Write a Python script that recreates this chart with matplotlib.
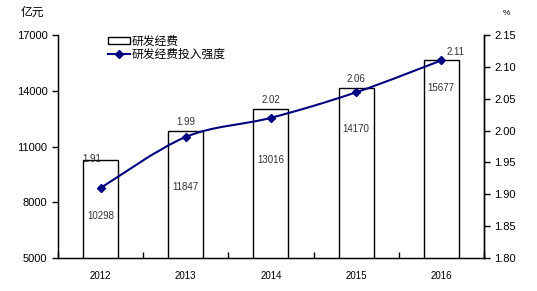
import matplotlib
matplotlib.use("Agg")
import matplotlib.pyplot as plt
from matplotlib.path import Path
from matplotlib.patches import PathPatch, Patch
from matplotlib.lines import Line2D
import numpy as np

plt.rcParams['font.family'] = ['Liberation Sans', 'Noto Sans CJK SC', 'DejaVu Sans']

years = ['2012', '2013', '2014', '2015', '2016']
rd_spending = [10298, 11847, 13016, 14170, 15677]
rd_intensity = [1.91, 1.99, 2.02, 2.06, 2.11]
bar_label_offsets = [-28, -50, -42, -37, -28]  # px offsets of value labels relative to marker
pct_label_offsets = [(-9, 29), (0, 15), (0, 18), (0, 13), (14, 8)]  # px offsets (dx, dy)

fig = plt.figure(figsize=(5.37, 2.91), dpi=100)
ax = fig.add_axes([0.108, 0.113, 0.793, 0.767])
ax2 = ax.twinx()

x = np.arange(len(years))
ax.bar(x, rd_spending, width=0.41, color='white', edgecolor='black', linewidth=1.0, zorder=2)
ax.set_xlim(-0.5, 4.5)
ax.set_ylim(5000, 17000)
ax.set_yticks([5000, 8000, 11000, 14000, 17000])
ax.set_xticks(x)
ax.set_xticklabels(years, fontsize=7)
ax.set_xticks(np.arange(-0.5, 4.6, 1.0), minor=True)
ax.tick_params(axis='x', which='major', length=0, pad=9)
ax.tick_params(axis='x', which='minor', direction='in', length=4, width=1)
ax.tick_params(axis='y', labelsize=8, direction='out', length=4, width=1)
ax.spines['top'].set_visible(False)
for s in ['left', 'bottom', 'right']:
    ax.spines[s].set_linewidth(1)

ax2.set_ylim(1.80, 2.15)
ticks2 = [1.80, 1.85, 1.90, 1.95, 2.00, 2.05, 2.10, 2.15]
ax2.set_yticks(ticks2)
ax2.set_yticklabels(['%.2f' % v for v in ticks2])
ax2.tick_params(axis='y', labelsize=8, direction='out', length=4, width=1)
ax2.spines['top'].set_visible(False)
ax2.spines['right'].set_linewidth(1)

# smooth line via Catmull-Rom -> Bezier
pts = np.column_stack([x, rd_intensity]).astype(float)
verts = [tuple(pts[0])]
codes = [Path.MOVETO]
n = len(pts)
for i in range(n - 1):
    p0 = pts[i - 1] if i > 0 else pts[i]
    p1 = pts[i]
    p2 = pts[i + 1]
    p3 = pts[i + 2] if i + 2 < n else pts[i + 1]
    c1 = p1 + (p2 - p0) / 6.0
    c2 = p2 - (p3 - p1) / 6.0
    verts += [tuple(c1), tuple(c2), tuple(p2)]
    codes += [Path.CURVE4] * 3
color = '#000080'
ax2.add_patch(PathPatch(Path(verts, codes), facecolor='none', edgecolor=color, linewidth=1.5, zorder=3))
ax2.plot(x, rd_intensity, linestyle='none', marker='D', markersize=4.5, color=color, zorder=4)

for xi, v, (dx, dy) in zip(x, rd_intensity, pct_label_offsets):
    ax2.annotate('%.2f' % v, (xi, v), xytext=(dx * 0.72, dy * 0.72), textcoords='offset points',
                 ha='center', va='center', fontsize=7, color='#333333')
for xi, v, r, off in zip(x, rd_spending, rd_intensity, bar_label_offsets):
    ax2.annotate(str(v), (xi, r), xytext=(0, off * 0.72), textcoords='offset points',
                 ha='center', va='center', fontsize=7, color='#333333')

handles = [Patch(facecolor='white', edgecolor='black', linewidth=1),
           Line2D([0], [0], color=color, linewidth=1.5, marker='D', markersize=4.5)]
leg = ax.legend(handles, ['研发经费', '研发经费投入强度'], loc='upper left',
                bbox_to_anchor=(0.106, 1.022), frameon=False,
                handlelength=1.9, handleheight=0.5, handletextpad=0.1, labelspacing=0.02,
                borderaxespad=0.0,
                prop={'family': ['Noto Sans CJK SC'], 'size': 8.5})

fig.text(0.06, 0.958, '亿元', fontsize=8.5, ha='center', va='center', family=['Noto Sans CJK SC'])
fig.text(0.943, 0.955, '%', fontsize=6, ha='center', va='center')

fig.savefig('out.png', dpi=100)
